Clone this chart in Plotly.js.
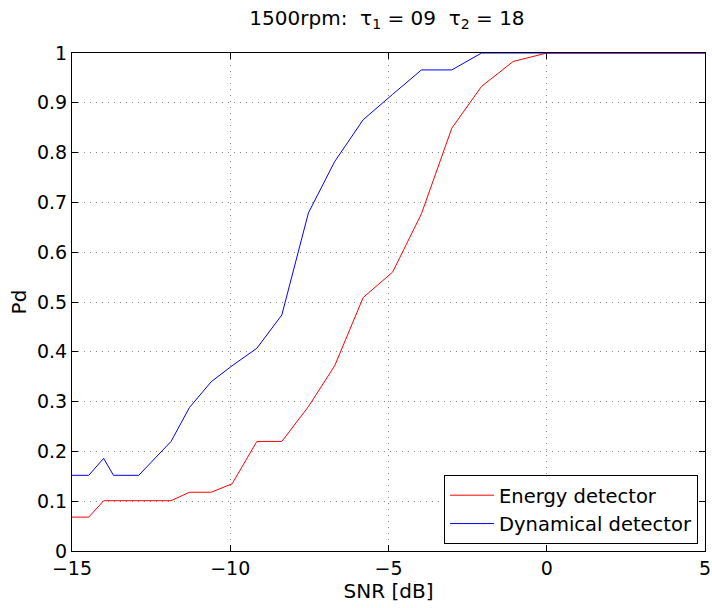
<!DOCTYPE html>
<html>
<head>
<meta charset="utf-8">
<script src="https://cdn.plot.ly/plotly-3.0.1.min.js"></script>
<style>
  html, body { margin: 0; padding: 0; background: #fff; }
  #chart { width: 712px; height: 608px; }
</style>
</head>
<body>
<div id="chart"></div>
<script>
// SNR values [dB]
const snr = [-15, -14.47, -14.0, -13.69, -12.89, -11.87, -11.29, -10.6, -9.94, -9.16, -8.37, -7.53, -6.7, -5.8, -4.87, -3.96, -3.0, -2.06, -1.06, 0, 5];
// Probability of detection
const energyPd = [0.068, 0.068, 0.101, 0.101, 0.101, 0.101, 0.118, 0.118, 0.135, 0.22, 0.22, 0.29, 0.372, 0.509, 0.56, 0.677, 0.849, 0.933, 0.983, 1.0, 1.0];
const dynamicalPd = [0.152, 0.152, 0.186, 0.152, 0.152, 0.22, 0.288, 0.34, 0.372, 0.407, 0.474, 0.679, 0.782, 0.866, 0.917, 0.966, 0.966, 1.0, 1.0, 1.0, 1.0];
const seriesNames = ["Energy detector", "Dynamical detector"];
const xTicks = [-15, -10, -5, 0, 5];
const yTicks = [0, 0.1, 0.2, 0.3, 0.4, 0.5, 0.6, 0.7, 0.8, 0.9, 1];
const yTickText = ["0", "0.1", "0.2", "0.3", "0.4", "0.5", "0.6", "0.7", "0.8", "0.9", "1"];

const FONT = "DejaVu Sans, Liberation Sans, Arial, sans-serif";

const traces = [
  { x: snr, y: energyPd, name: seriesNames[0], type: "scatter", mode: "lines",
    line: { color: "#ff0000", width: 1 } },
  { x: snr, y: dynamicalPd, name: seriesNames[1], type: "scatter", mode: "lines",
    line: { color: "#0000ff", width: 1 } }
];

const axisCommon = {
  showline: true, linecolor: "#000", linewidth: 1, mirror: "ticks",
  ticks: "inside", ticklen: 6, tickcolor: "#000", tickwidth: 1,
  showgrid: true, gridcolor: "#8c8c8c", griddash: "1px,5px", gridwidth: 1,
  zeroline: false, layer: "below traces",
  tickfont: { family: FONT, size: 19, color: "#000" }
};

const layout = {
  width: 712, height: 608,
  paper_bgcolor: "#fff", plot_bgcolor: "#fff",
  margin: { l: 72, r: 7, t: 53, b: 57 },
  showlegend: true,
  title: {
    text: "1500rpm:&nbsp; τ<sub>1</sub> = 09&nbsp; τ<sub>2</sub> = 18",
    font: { family: FONT, size: 20, color: "#000" },
    x: 0.5435, xref: "container", xanchor: "center",
    y: 0.97, yref: "container", yanchor: "middle"
  },
  xaxis: Object.assign({}, axisCommon, {
    range: [-15, 5], tickvals: xTicks,
    title: { text: "SNR [dB]", font: { family: FONT, size: 20, color: "#000" }, standoff: 2 }
  }),
  yaxis: Object.assign({}, axisCommon, {
    range: [0, 1], tickvals: yTicks, ticktext: yTickText,
    title: { text: "Pd", font: { family: FONT, size: 20, color: "#000" }, standoff: 4 }
  }),
  legend: {
    x: 0.989, xanchor: "right", y: 0.014, yanchor: "bottom",
    bgcolor: "#fff", bordercolor: "#000", borderwidth: 1,
    font: { family: FONT, size: 19.5, color: "#000" },
    itemwidth: 44,
    tracegroupgap: 0
  }
};

Plotly.newPlot("chart", traces, layout, { staticPlot: true, displayModeBar: false });
</script>
</body>
</html>
